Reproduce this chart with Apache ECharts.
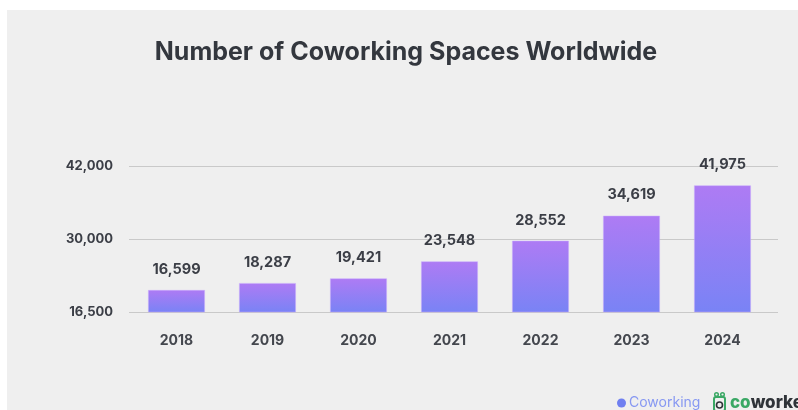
<!DOCTYPE html>
<html>
<head>
<meta charset="utf-8">
<title>Number of Coworking Spaces Worldwide</title>
<script src="https://cdn.jsdelivr.net/npm/echarts@6/dist/echarts.min.js"></script>
<style>
  html, body { margin: 0; padding: 0; background: #ffffff; }
  #chart { width: 798px; height: 410px; }
</style>
</head>
<body>
<div id="chart"></div>
<script>
// Yearly count of coworking spaces
const years = ['2018', '2019', '2020', '2021', '2022', '2023', '2024'];
const spaces = [16599, 18287, 19421, 23548, 28552, 34619, 41975];
// Reference lines on the left axis, bottom to top
const tickLabels = ['16,500', '30,000', '42,000'];

const fmt = n => String(n).replace(/\B(?=(\d{3})+(?!\d))/g, ',');
const textColor = '#3b3e46';
const font = 'Inter, "Open Sans", sans-serif';

const chart = echarts.init(document.getElementById('chart'), null, { renderer: 'canvas' });

chart.setOption({
  backgroundColor: '#ffffff',
  animation: false,
  title: {
    text: 'Number of Coworking Spaces Worldwide',
    left: 401, top: 35, textAlign: 'center',
    textStyle: { fontFamily: font, fontSize: 25, fontWeight: 700, color: '#33373e' }
  },
  graphic: [
    { type: 'rect', z: -10, shape: { x: 7, y: 10, width: 791, height: 400 }, style: { fill: '#efefef' } },
    // Coworking badge
    { type: 'circle', shape: { cx: 621.5, cy: 403, r: 4.5 }, style: { fill: '#6f7ff0' } },
    { type: 'text', x: 629, y: 403, style: { text: 'Coworking', font: '14px ' + font, fill: '#8798f2', textVerticalAlign: 'middle' } },
    // coworker badge
    { type: 'rect', shape: { x: 714, y: 397, width: 11, height: 14, r: 2 }, style: { fill: 'none', stroke: '#3aa865', lineWidth: 2 } },
    { type: 'circle', shape: { cx: 716.5, cy: 394.5, r: 1.8 }, style: { fill: 'none', stroke: '#3aa865', lineWidth: 1.5 } },
    { type: 'circle', shape: { cx: 722.5, cy: 394.5, r: 1.8 }, style: { fill: 'none', stroke: '#3aa865', lineWidth: 1.5 } },
    { type: 'circle', shape: { cx: 719.5, cy: 405, r: 3 }, style: { fill: 'none', stroke: '#2f3338', lineWidth: 1.6 } },
    { type: 'text', x: 730, y: 403, style: {
        text: '{g|co}{d|worker}', textVerticalAlign: 'middle',
        rich: {
          g: { fontFamily: font, fontSize: 17, fontWeight: 800, fill: '#3aa865', color: '#3aa865' },
          d: { fontFamily: font, fontSize: 17, fontWeight: 800, fill: '#2f3338', color: '#2f3338' }
        }
    } }
  ],
  grid: [
    { left: 129, right: 20, top: 166, height: 146 },
    { left: 131, width: 637, top: 166, height: 146 }
  ],
  xAxis: [
    { gridIndex: 0, type: 'value', show: false },
    {
      gridIndex: 1, type: 'category', data: years,
      axisLine: { show: false }, axisTick: { show: false },
      axisLabel: { margin: 22, fontFamily: font, fontSize: 14, fontWeight: 700, color: '#44474e' }
    }
  ],
  yAxis: [
    {
      gridIndex: 0, type: 'value', min: 0, max: 2, interval: 1,
      axisLine: { show: false }, axisTick: { show: false },
      splitLine: { lineStyle: { color: '#c9c9c9', width: 1.2 } },
      axisLabel: {
        margin: 16, fontFamily: font, fontSize: 13, fontWeight: 700, color: textColor,
        formatter: v => tickLabels[v]
      }
    },
    { gridIndex: 1, type: 'value', min: 11250, max: 46650, show: false, splitLine: { show: false } }
  ],
  series: [{
    type: 'bar',
    xAxisIndex: 1, yAxisIndex: 1,
    data: spaces,
    barWidth: 57,
    itemStyle: {
      color: new echarts.graphic.LinearGradient(0, 0, 0, 1, [
        { offset: 0, color: '#ae7bf4' },
        { offset: 1, color: '#7983f5' }
      ]),
      borderColor: 'rgba(200,170,255,0.6)', borderWidth: 0.8
    },
    label: {
      show: true, position: 'top', distance: 13,
      formatter: p => fmt(p.value),
      fontFamily: font, fontSize: 14.5, fontWeight: 700, color: textColor
    }
  }]
});
</script>
</body>
</html>
